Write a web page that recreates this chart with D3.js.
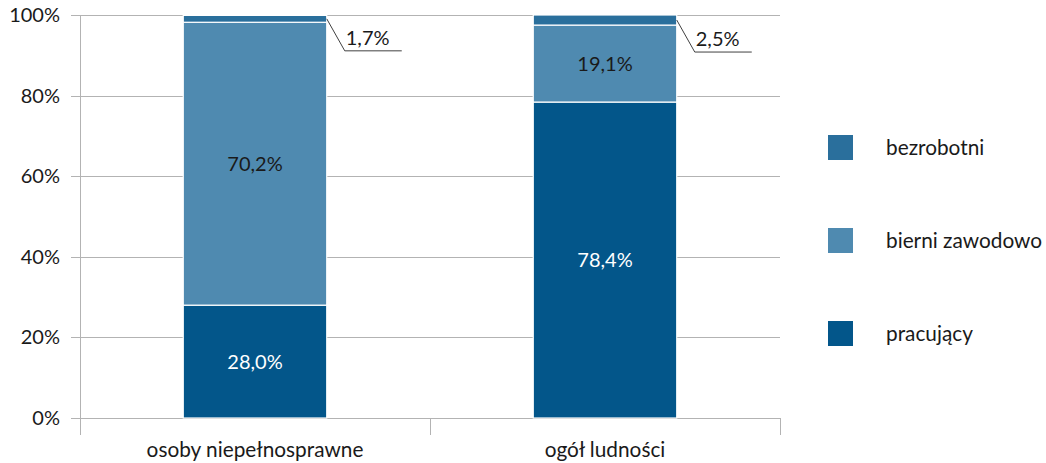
<!DOCTYPE html>
<html><head><meta charset="utf-8">
<script src="https://cdn.jsdelivr.net/npm/d3@7"></script>
<style>body{margin:0;background:#fff}svg{display:block}text{font-family:Lato,"Open Sans",sans-serif}</style>
</head><body><svg id="c" width="1046" height="463"></svg>
<script>
const categories = ["osoby niepełnosprawne", "ogół ludności"];
const seriesNames = ["pracujący", "bierni zawodowo", "bezrobotni"];
const pracujacy = [28.0, 78.4];
const bierni = [70.2, 19.1];
const bezrobotni = [1.7, 2.5];
const yTicks = [0, 20, 40, 60, 80, 100];
const colors = ["#03568A", "#4F8AB0", "#2A6F9C"];

const svg = d3.select("#c");
const W = 1046, H = 463;
const m = {l: 80, r: 266, t: 15, b: 45};
const x = d3.scaleBand().domain(categories).range([m.l, W - m.r]).paddingInner(0).paddingOuter(0);
const y = d3.scaleLinear().domain([0, 100]).range([H - m.b, m.t]);
const barW = x.bandwidth() * 0.41;
const FS = 20.8;

const rows = categories.map((c, i) => ({cat: c, "pracujący": pracujacy[i], "bierni zawodowo": bierni[i], "bezrobotni": bezrobotni[i]}));
const stacked = d3.stack().keys(seriesNames)(rows);

// gridlines
svg.append("g").selectAll("line").data(yTicks).join("line")
  .attr("x1", m.l - 9).attr("x2", W - m.r)
  .attr("y1", d => Math.round(y(d)) + 0.5).attr("y2", d => Math.round(y(d)) + 0.5)
  .attr("stroke", "#b3b3b3").attr("stroke-width", 1);
// y axis line
svg.append("line").attr("x1", m.l + 0.5).attr("x2", m.l + 0.5).attr("y1", y(100)).attr("y2", y(0))
  .attr("stroke", "#b3b3b3");
// category tick marks
const bounds = [m.l, ...categories.map(c => x(c) + x.bandwidth())];
svg.append("g").selectAll("line").data(bounds).join("line")
  .attr("x1", d => Math.round(d) + 0.5).attr("x2", d => Math.round(d) + 0.5)
  .attr("y1", y(0)).attr("y2", y(0) + 17).attr("stroke", "#b3b3b3");
// y tick labels
svg.append("g").selectAll("text").data(yTicks).join("text")
  .attr("x", 60).attr("y", d => y(d)).attr("dy", "0.35em").attr("text-anchor", "end")
  .attr("font-size", 20).attr("fill", "#1a1a1a").text(d => d + "%");
// category labels
svg.append("g").selectAll("text").data(categories).join("text")
  .attr("x", d => x(d) + x.bandwidth() / 2).attr("y", H - 6).attr("text-anchor", "middle")
  .attr("font-size", FS).attr("fill", "#1a1a1a").text(d => d);

// bars
const fmt = v => d3.format(".1f")(v).replace(".", ",") + "%";
stacked.forEach((s, si) => {
  const g = svg.append("g");
  g.selectAll("rect").data(s).join("rect")
    .attr("x", d => x(d.data.cat) + (x.bandwidth() - barW) / 2)
    .attr("width", barW)
    .attr("y", d => y(d[1]))
    .attr("height", d => y(d[0]) - y(d[1]))
    .attr("fill", colors[si]).attr("stroke", "#fff").attr("stroke-width", 1.2);
});
// labels inside (first two series)
[0, 1].forEach(si => {
  svg.append("g").selectAll("text").data(stacked[si]).join("text")
    .attr("x", d => x(d.data.cat) + x.bandwidth() / 2)
    .attr("y", d => y((d[0] + d[1]) / 2)).attr("dy", "0.35em").attr("text-anchor", "middle")
    .attr("font-size", 20).attr("fill", si === 0 ? "#fff" : "#1a1a1a")
    .text(d => fmt(d[1] - d[0]));
});
// callouts for bezrobotni
const topSeries = stacked[2];
topSeries.forEach(d => {
  const bx = x(d.data.cat) + (x.bandwidth() + barW) / 2;
  const by = y((d[0] + d[1]) / 2);
  const lx = bx + 18, ly = by + 32;
  svg.append("path").attr("d", `M${bx},${by}L${lx},${ly}L${lx + 57},${ly}`)
    .attr("fill", "none").attr("stroke", "#404040").attr("stroke-width", 1);
  svg.append("text").attr("x", lx + 1).attr("y", ly - 6).attr("font-size", 20)
    .attr("fill", "#1a1a1a").text(fmt(d[1] - d[0]));
});

// legend
const legOrder = ["bezrobotni", "bierni zawodowo", "pracujący"];
const lg = svg.append("g").selectAll("g").data(legOrder).join("g")
  .attr("transform", (d, i) => `translate(828, ${135 + i * 93})`);
lg.append("rect").attr("width", 25).attr("height", 25)
  .attr("fill", d => colors[seriesNames.indexOf(d)]);
lg.append("text").attr("x", 58).attr("y", 13).attr("dy", "0.35em").attr("font-size", FS)
  .attr("fill", "#1a1a1a").text(d => d);
</script></body></html>
